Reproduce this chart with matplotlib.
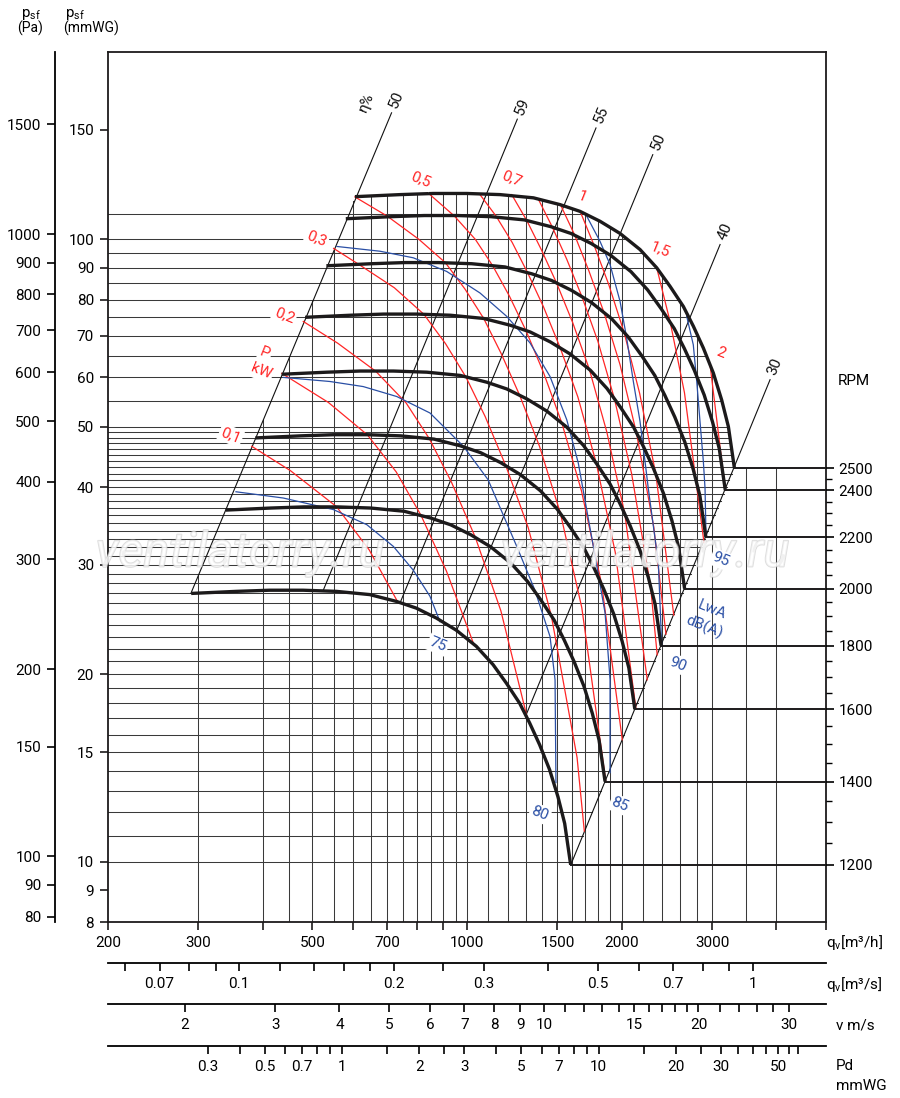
import numpy as np
import matplotlib
matplotlib.use('Agg')
import matplotlib.pyplot as plt
import matplotlib.patheffects as pe
from matplotlib.ticker import FixedLocator, NullLocator, NullFormatter

plt.rcParams['font.family'] = ['Roboto', 'DejaVu Sans']
plt.rcParams['mathtext.default'] = 'regular'

# ---------------- data ----------------
rpm = [2500, 2400, 2200, 2000, 1800, 1600, 1400, 1200]
# fan curve read at 2500 rpm (q m3/h, p mmWG); other speeds follow the fan laws
base_q = [605, 741, 860, 999, 1160, 1347, 1518, 1660, 1816, 1986, 2172, 2341,
          2486, 2638, 2759, 2885, 3017, 3132, 3228, 3316]
base_p = [117.1, 118.0, 118.5, 118.5, 118.0, 116.6, 113.7, 110.9, 106.9, 102.2,
          96.3, 90.0, 84.0, 78.0, 72.5, 66.9, 61.0, 55.2, 50.0, 42.9]

# power lines P kW
red_01_q = [381, 453, 557, 645, 732]
red_01_p = [46.5, 42.5, 37.2, 31.7, 26.2]
red_015_q = [436, 537, 640, 728, 814, 912, 1032]
red_015_p = [60.9, 54.7, 48.5, 42.3, 36, 29.3, 22.3]
red_02_q = [480, 560, 664, 761, 845, 933, 1038, 1164, 1313]
red_02_p = [73.8, 68.1, 61.4, 54.6, 47.8, 40.7, 33.2, 25.3, 16.9]
red_03_q = [550, 615, 722, 824, 908, 995, 1085, 1191, 1316, 1460, 1638, 1692]
red_03_p = [96.7, 91.2, 83.6, 75.8, 68, 60.1, 51.9, 43.2, 34.4, 24.8, 14.7, 11.2]
red_04_q = [605, 699, 806, 908, 992, 1078, 1166, 1267, 1384, 1520, 1673, 1862]
red_04_p = [117, 109, 100, 91.7, 83.1, 74.6, 65.5, 56.1, 46.5, 36.3, 25.6, 13.5]
red_05_q = [847, 945, 1038, 1122, 1209, 1302, 1409, 1531, 1671, 1829, 2006]
red_05_p = [118, 109, 100, 90.7, 81.1, 71.4, 61.1, 50.6, 39.4, 27.9, 15.7]
red_06_q = [1060, 1139, 1225, 1312, 1409, 1519, 1644, 1785, 1944, 2131]
red_06_p = [118, 109, 98.8, 88.4, 77.9, 66.9, 55.8, 43.7, 31.4, 17.7]
red_07_q = [1222, 1309, 1395, 1494, 1606, 1731, 1872, 2029, 2244]
red_07_p = [118, 107, 96.3, 85.1, 73.5, 61.8, 49, 36.2, 19.6]
red_08_q = [1377, 1463, 1563, 1674, 1798, 1937, 2092, 2277, 2346]
red_08_p = [116, 105, 93, 80.9, 68.6, 55.4, 42, 27.7, 21.5]
red_09_q = [1518, 1617, 1727, 1849, 1987, 2137, 2310, 2440]
red_09_p = [114, 102, 89, 76.2, 62.8, 48.9, 34.5, 23.2]
red_10_q = [1660, 1768, 1888, 2022, 2168, 2332, 2527]
red_10_p = [111, 97.8, 84.6, 70.9, 56.6, 41.9, 24.9]
red_15_q = [2341, 2488, 2651, 2893]
red_15_p = [90, 73.5, 56.7, 32.6]
red_20_q = [2973, 3184]
red_20_p = [62.9, 39.5]

# sound lines LwA dB(A)
blue_75_q = [355, 439, 549, 638, 719, 786, 847, 886]
blue_75_p = [39.3, 38.4, 36.8, 34.8, 32.1, 29.4, 26.7, 24.3]
blue_80_q = [439, 541, 628, 730, 847, 984, 1099, 1250, 1356, 1451, 1484, 1490]
blue_80_p = [60, 59.1, 58, 55.9, 52.6, 46.5, 41.1, 32.1, 27.3, 23, 19.6, 13.4]
blue_85_q = [558, 677, 786, 913, 1060, 1195, 1326, 1451, 1564, 1647, 1710, 1762, 1857, 1899, 1899]
blue_85_p = [97.4, 95.7, 93.4, 88.8, 82, 75.2, 68.2, 60.2, 51.3, 43.7, 36.8, 32.1, 25.1, 19.6, 13.9]
blue_90_q = [1710, 1815, 1899, 1986, 2046, 2108, 2172, 2221, 2254, 2358, 2394]
blue_90_p = [109, 99.3, 91.1, 79.5, 69.4, 59.1, 51, 44, 39.8, 30.2, 22.2]
blue_95_q = [2678, 2758, 2801, 2842, 2885, 2907, 2920]
blue_95_p = [75.2, 67.7, 59.1, 51, 44, 39.8, 33.3]

# efficiency lines
eta_labels = ['50', '59', '55', '50', '40', '30']
eta_q_bot = [290, 525, 740, 954, 1303, 1592]
eta_p_bot = [26.98, 27.3, 26.0, 23.5, 17.2, 9.88]
eta_q_top = [713, 1253, 1783, 2300, 3110, 3891]
eta_p_top = [159.7, 156.0, 151.0, 136.8, 98.1, 59.5]

x_ticks = [200, 300, 400, 500, 600, 700, 800, 900, 1000, 1500, 2000, 3000, 4000, 5000]
x_labels = ['200', '300', '', '500', '', '700', '', '', '1000', '1500', '2000', '3000', '', '']
y_ticks = [8, 9, 10, 15, 20, 30, 40, 50, 60, 70, 80, 90, 100, 150]
pa_ticks = [80, 90, 100, 150, 200, 300, 400, 500, 600, 700, 800, 900, 1000, 1500]
ms_ticks = [0.06, 0.07, 0.08, 0.09, 0.1, 0.12, 0.14, 0.16, 0.18, 0.2, 0.25, 0.3, 0.4, 0.5, 0.6, 0.7, 0.8, 0.9, 1.0]
ms_labels = ['0.07', '0.1', '0.2', '0.3', '0.5', '0.7', '1']
v_ticks = list(range(2, 21)) + [22, 24, 26, 28, 30]
v_labels = ['2', '3', '4', '5', '6', '7', '8', '9', '10', '15', '20', '30']
pd_ticks = [0.3, 0.4, 0.5, 0.6, 0.7, 0.8, 0.9, 1, 1.5, 2, 2.5, 3, 4, 5, 6, 7, 8, 9, 10,
            15, 20, 25, 30, 35, 40, 45, 50, 55, 60]
pd_labels = ['0.3', '0.5', '0.7', '1', '2', '3', '5', '7', '10', '20', '30', '50']

G = 9.80665          # Pa per mmWG
AREA = 0.0392        # outlet area m2
RHO = 1.2

red_lines = {0.1: (red_01_q, red_01_p), 0.15: (red_015_q, red_015_p), 0.2: (red_02_q, red_02_p),
             0.3: (red_03_q, red_03_p), 0.4: (red_04_q, red_04_p), 0.5: (red_05_q, red_05_p),
             0.6: (red_06_q, red_06_p), 0.7: (red_07_q, red_07_p), 0.8: (red_08_q, red_08_p),
             0.9: (red_09_q, red_09_p), 1.0: (red_10_q, red_10_p), 1.5: (red_15_q, red_15_p),
             2.0: (red_20_q, red_20_p)}
blue_lines = {'75': (blue_75_q, blue_75_p), '80': (blue_80_q, blue_80_p), '85': (blue_85_q, blue_85_p),
              '90': (blue_90_q, blue_90_p), '95': (blue_95_q, blue_95_p)}

lq = np.log10(base_q); lp = np.log10(base_p)

# ---------------- figure ----------------
W, H = 900, 1098
fig = plt.figure(figsize=(9, 10.98), dpi=100)
L, R, T, B = 108, 826, 52, 922
def fx(px): return px / W
def fy(py): return 1 - py / H
QMIN, QMAX, PMIN, PMAX = 200, 5000, 8, 200
ax = fig.add_axes([fx(L), fy(B), (R - L) / W, (B - T) / H])
ax.set_xscale('log'); ax.set_yscale('log')
ax.set_xlim(QMIN, QMAX); ax.set_ylim(PMIN, PMAX)
for s in ax.spines.values():
    s.set_linewidth(1.3); s.set_color('#1c1a1b')
ax.set_xticks(x_ticks, x_labels)
ax.xaxis.set_minor_locator(NullLocator())
ax.set_yticks(y_ticks, [str(v) for v in y_ticks])
ax.yaxis.set_minor_locator(NullLocator())
ax.tick_params(direction='out', length=6, width=1.2, labelsize=11, pad=4, color='#1c1a1b')

def top_p(q):
    if q < base_q[0]:
        return base_p[0] * (q / base_q[0]) ** 2
    if q > base_q[-1]:
        return base_p[-1]
    return 10 ** np.interp(np.log10(q), lq, lp)

def right_q(p):
    if p < base_p[-1]:
        return base_q[-1] * np.sqrt(p / base_p[-1])
    i = int(np.argmax(base_p))
    return 10 ** np.interp(np.log10(p), lp[i:][::-1], lq[i:][::-1])

h_levels = list(range(10, 51)) + list(range(55, 101, 5)) + [110]
v_levels = [300] + list(range(400, 1001, 50)) + list(range(1100, 2001, 100)) + [2200, 2400, 2600, 2800, 3000, 3500, 4000]
gc = '#3a3a3a'
for p in h_levels:
    ax.plot([QMIN, right_q(p)], [p, p], color=gc, lw=0.75, zorder=1)
for q in v_levels:
    ax.plot([q, q], [PMIN, top_p(q)], color=gc, lw=0.75, zorder=1)

for i in range(len(eta_labels)):
    ax.plot([eta_q_bot[i], eta_q_top[i]], [eta_p_bot[i], eta_p_top[i]], color='#111111', lw=0.8, zorder=2)
    ax.annotate(eta_labels[i], (eta_q_top[i], eta_p_top[i]), xytext=(2, 5), textcoords='offset pixels',
                rotation=67.6, rotation_mode='anchor', ha='left', va='center', fontsize=11, color='#111111')
ax.annotate('η%', (eta_q_top[0], eta_p_top[0]), xytext=(-29, 1), textcoords='offset pixels',
            rotation=67.6, rotation_mode='anchor', ha='left', va='center', fontsize=11, color='#111111')

RED = '#ff2626'
for P, (qs, ps) in red_lines.items():
    ax.plot(qs, ps, color=RED, lw=0.9, zorder=3)
red_text = {0.1: ('0,1', (-21, 11)), 0.2: ('0,2', (-19, 6)), 0.3: ('0,3', (-17, 10)),
            0.5: ('0,5', (-9, 15)), 0.7: ('0,7', (0, 16)), 1.0: ('1', (2, 14)),
            1.5: ('1,5', (4, 18)), 2.0: ('2', (11, 12))}
wbox = dict(boxstyle='square,pad=0.12', fc='white', ec='none')
for P, (txt, off) in red_text.items():
    qs, ps = red_lines[P]
    ax.annotate(txt, (qs[0], ps[0]), xytext=off, textcoords='offset pixels', ha='center', va='center',
                rotation=-22, fontsize=11, color=RED, bbox=wbox, zorder=7)
qs, ps = red_lines[0.15]
ax.annotate('P', (qs[0], ps[0]), xytext=(-17, 20), textcoords='offset pixels', ha='center', va='center',
            rotation=-22, fontsize=11, color=RED, bbox=wbox, zorder=7)
ax.annotate('kW', (qs[0], ps[0]), xytext=(-21, 2), textcoords='offset pixels', ha='center', va='center',
            rotation=-22, fontsize=11, color=RED, bbox=wbox, zorder=7)

BLUE = '#2a4fa5'
for k, (qs, ps) in blue_lines.items():
    ax.plot(qs, ps, color=BLUE, lw=0.9, zorder=3)
blue_off = {'75': (-2, -23), '80': (-16, -31), '85': (10, -32), '90': (16, -18), '95': (15, -23)}
for k, off in blue_off.items():
    qs, ps = blue_lines[k]
    ax.annotate(k, (qs[-1], ps[-1]), xytext=off, textcoords='offset pixels', ha='center', va='center',
                rotation=-22, fontsize=11, color=BLUE, bbox=wbox, zorder=7)
qs, ps = blue_lines['95']
ax.annotate('LwA', (qs[-1], ps[-1]), xytext=(6, -73), textcoords='offset pixels', ha='center', va='center',
            rotation=-22, fontsize=11, color=BLUE, zorder=7)
ax.annotate('dB(A)', (qs[-1], ps[-1]), xytext=(-2, -91), textcoords='offset pixels', ha='center', va='center',
            rotation=-22, fontsize=11, color=BLUE, zorder=7)

for n in rpm:
    s = n / 2500
    ax.plot(np.array(base_q) * s, np.array(base_p) * s * s, color='#1c1a1b', lw=2.4, zorder=5,
            solid_capstyle='butt', solid_joinstyle='round')
    ax.plot([base_q[-1] * s, QMAX], [base_p[-1] * s * s] * 2, color='#1c1a1b', lw=1.4, zorder=4)

# watermark (between the curves and the labels)
for cx in (240, 645):
    ax.text(fx(cx), fy(553), 'ventilatorry.ru', transform=fig.transFigure, ha='center', va='center',
            fontsize=35, style='italic', color='white', alpha=0.6, zorder=6,
            path_effects=[pe.withStroke(linewidth=1.3, foreground='#c8c8c8')])

# RPM axis
ax_r = ax.twinx()
ax_r.set_yscale('log'); ax_r.set_ylim(PMIN, PMAX)
for s in ax_r.spines.values():
    s.set_visible(False)
rpm_p = [base_p[-1] * (n / 2500) ** 2 for n in rpm]
ax_r.set_yticks(rpm_p, [str(n) for n in rpm])
minor_rpm = [n for n in range(1200, 2501, 50) if n not in rpm]
ax_r.yaxis.set_minor_locator(FixedLocator([base_p[-1] * (n / 2500) ** 2 for n in minor_rpm]))
ax_r.yaxis.set_minor_formatter(NullFormatter())
ax_r.tick_params(axis='y', which='major', direction='out', length=6, width=1.2, pad=3, labelsize=11)
ax_r.tick_params(axis='y', which='minor', direction='out', length=4, width=1.0)
fig.text(fx(838), fy(381), 'RPM', ha='left', va='center', fontsize=11)

# Pa axis
ax_pa = fig.add_axes([fx(55), fy(B), 1e-4, (B - T) / H])
ax_pa.set_yscale('log'); ax_pa.set_ylim(PMIN * G, PMAX * G)
ax_pa.set_xticks([])
for s in ['top', 'right', 'bottom']:
    ax_pa.spines[s].set_visible(False)
ax_pa.spines['left'].set_linewidth(1.3)
ax_pa.set_yticks(pa_ticks, [str(v) for v in pa_ticks])
ax_pa.yaxis.set_minor_locator(NullLocator())
ax_pa.tick_params(direction='out', length=6, width=1.2, labelsize=11, pad=4)
ax_pa.patch.set_visible(False)

fig.text(fx(21), fy(14), 'p$_{sf}$', ha='left', va='center', fontsize=11)
fig.text(fx(17), fy(28), '(Pa)', ha='left', va='center', fontsize=10)
fig.text(fx(65), fy(14), 'p$_{sf}$', ha='left', va='center', fontsize=11)
fig.text(fx(63), fy(28), '(mmWG)', ha='left', va='center', fontsize=10)

def bottom_scale(py, pos, vals, labels):
    a = fig.add_axes([fx(L), fy(py), (R - L) / W, 1e-4])
    a.set_xscale('log'); a.set_xlim(QMIN, QMAX)
    a.set_yticks([])
    for s in ['top', 'left', 'right']:
        a.spines[s].set_visible(False)
    a.spines['bottom'].set_linewidth(1.3)
    labs = []
    li = 0
    for v in vals:
        lab = ''
        if li < len(labels) and abs(float(labels[li]) - v) < 1e-9:
            lab = labels[li]; li += 1
        labs.append(lab)
    a.set_xticks(pos, labs)
    a.xaxis.set_minor_locator(NullLocator())
    a.tick_params(direction='out', length=6, width=1.2, labelsize=11, pad=4)
    a.patch.set_visible(False)
    return a

bottom_scale(963, [v * 3600 for v in ms_ticks], ms_ticks, ms_labels)
bottom_scale(1004, [v * 3600 * AREA for v in v_ticks], v_ticks, v_labels)
bottom_scale(1046, [3600 * AREA * np.sqrt(2 * d * G / RHO) for d in pd_ticks], pd_ticks, pd_labels)

fig.text(fx(826), fy(943), 'q$_v$[m³/h]', ha='left', va='center', fontsize=11)
fig.text(fx(826), fy(985), 'q$_v$[m³/s]', ha='left', va='center', fontsize=11)
fig.text(fx(836), fy(1026), 'v m/s', ha='left', va='center', fontsize=11)
fig.text(fx(836), fy(1066), 'Pd', ha='left', va='center', fontsize=11)
fig.text(fx(836), fy(1086), 'mmWG', ha='left', va='center', fontsize=11)

fig.savefig('out.png', dpi=100)
